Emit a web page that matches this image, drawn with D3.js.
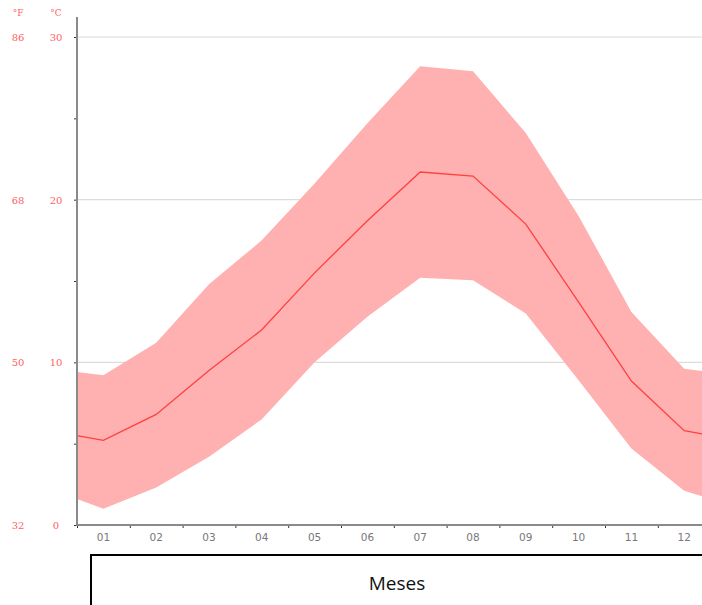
<!DOCTYPE html>
<html>
<head>
<meta charset="utf-8">
<script src="https://cdn.jsdelivr.net/npm/d3@7"></script>
<style>
  body { margin: 0; background: #fff; overflow: hidden; }
  svg { display: block; }
</style>
</head>
<body>
<script>
var swidth = 702,
    sheight = 605;

var months = ["01", "02", "03", "04", "05", "06", "07", "08", "09", "10", "11", "12"];
var tMax  = [9.2, 11.2, 14.8, 17.5, 21.0, 24.7, 28.2, 27.9, 24.1, 19.0, 13.1, 9.6];
var tMean = [5.2, 6.8, 9.5, 12.0, 15.5, 18.7, 21.7, 21.45, 18.5, 13.7, 8.85, 5.8];
var tMin  = [1.0, 2.3, 4.2, 6.5, 10.0, 12.8, 15.2, 15.05, 13.0, 8.9, 4.7, 2.1];
// value shown at the left/right border of the plot (year wrap)
var edgeMax = 9.4, edgeMean = 5.5, edgeMin = 1.6;

var cTicks = [0, 10, 20, 30];
var fTicks = [32, 50, 68, 86];
var minorTicks = [5, 15, 25];

var x = d3.scaleLinear().domain([0.5, 12.5]).range([77, 710.6]);
var y = d3.scaleLinear().domain([0, 30]).range([525, 37]);

var svg = d3.select("body").append("svg")
    .attr("width", swidth)
    .attr("height", sheight);

var series = [{m: 0.5, hi: edgeMax, mid: edgeMean, lo: edgeMin}];
months.forEach(function(d, i) {
  series.push({m: i + 1, hi: tMax[i], mid: tMean[i], lo: tMin[i]});
});
series.push({m: 12.5, hi: edgeMax, mid: edgeMean, lo: edgeMin});

// grid
svg.append("g")
  .selectAll("line")
  .data(cTicks.slice(1))
  .enter().append("line")
    .attr("x1", x(0.5))
    .attr("x2", swidth)
    .attr("y1", function(d) { return y(d); })
    .attr("y2", function(d) { return y(d); })
    .attr("stroke", "#dcdcdc")
    .attr("stroke-width", 1.2);

svg.append("path")
  .datum(series)
  .attr("fill", "#ffb0b0")
  .attr("d", d3.area()
    .x(function(d) { return x(d.m); })
    .y0(function(d) { return y(d.lo); })
    .y1(function(d) { return y(d.hi); }));

svg.append("path")
  .datum(series)
  .attr("fill", "none")
  .attr("stroke", "#ff4040")
  .attr("stroke-width", 1.3)
  .attr("d", d3.line()
    .x(function(d) { return x(d.m); })
    .y(function(d) { return y(d.mid); }));

// y axis
var yAxis = svg.append("g")
  .attr("transform", "translate(" + x(0.5) + ",0)")
  .call(d3.axisLeft(y)
    .tickValues(cTicks.concat(minorTicks))
    .tickSize(3)
    .tickFormat(""));
yAxis.select(".domain").remove();
yAxis.selectAll(".tick line").attr("stroke", "#333");
svg.append("line")
  .attr("x1", x(0.5)).attr("x2", x(0.5))
  .attr("y1", 17).attr("y2", y(0) + 1)
  .attr("stroke", "#8a8a8a")
  .attr("stroke-width", 2);

// x axis
var xAxis = svg.append("g")
  .attr("transform", "translate(0," + y(0) + ")")
  .call(d3.axisBottom(x)
    .tickValues(d3.range(0.5, 13, 1))
    .tickSize(3)
    .tickFormat(""));
xAxis.select(".domain").remove();
xAxis.selectAll(".tick line").attr("stroke", "#333");
svg.append("line")
  .attr("x1", x(0.5)).attr("x2", swidth)
  .attr("y1", y(0)).attr("y2", y(0))
  .attr("stroke", "#8a8a8a")
  .attr("stroke-width", 2);

svg.append("g")
  .selectAll("text")
  .data(months)
  .enter().append("text")
    .attr("x", function(d, i) { return x(i + 1); })
    .attr("y", 541)
    .attr("text-anchor", "middle")
    .attr("font-family", "DejaVu Sans")
    .attr("font-size", "10.5px")
    .attr("fill", "#777")
    .text(function(d) { return d; });

// temperature labels
var lab = svg.append("g")
  .attr("font-family", "DejaVu Serif")
  .attr("font-size", "10px")
  .attr("fill", "#ff6060")
  .attr("text-anchor", "middle");

lab.selectAll(".c")
  .data(cTicks)
  .enter().append("text")
    .attr("x", 56)
    .attr("y", function(d) { return y(d) + 4; })
    .text(function(d) { return d; });

lab.selectAll(".f")
  .data(fTicks)
  .enter().append("text")
    .attr("x", 18)
    .attr("y", function(d, i) { return y(cTicks[i]) + 4; })
    .text(function(d) { return d; });

lab.append("text").attr("x", 18).attr("y", 16).attr("font-size", "9px").text("°F");
lab.append("text").attr("x", 56).attr("y", 16).attr("font-size", "9px").text("°C");

// axis title box
svg.append("rect")
  .attr("x", 91)
  .attr("y", 555)
  .attr("width", 640)
  .attr("height", 80)
  .attr("fill", "none")
  .attr("stroke", "#000")
  .attr("stroke-width", 2);

svg.append("text")
  .attr("x", 397)
  .attr("y", 590)
  .attr("text-anchor", "middle")
  .attr("font-family", "Open Sans")
  .attr("font-size", "19px")
  .attr("fill", "#111")
  .text("Meses");
</script>
</body>
</html>
